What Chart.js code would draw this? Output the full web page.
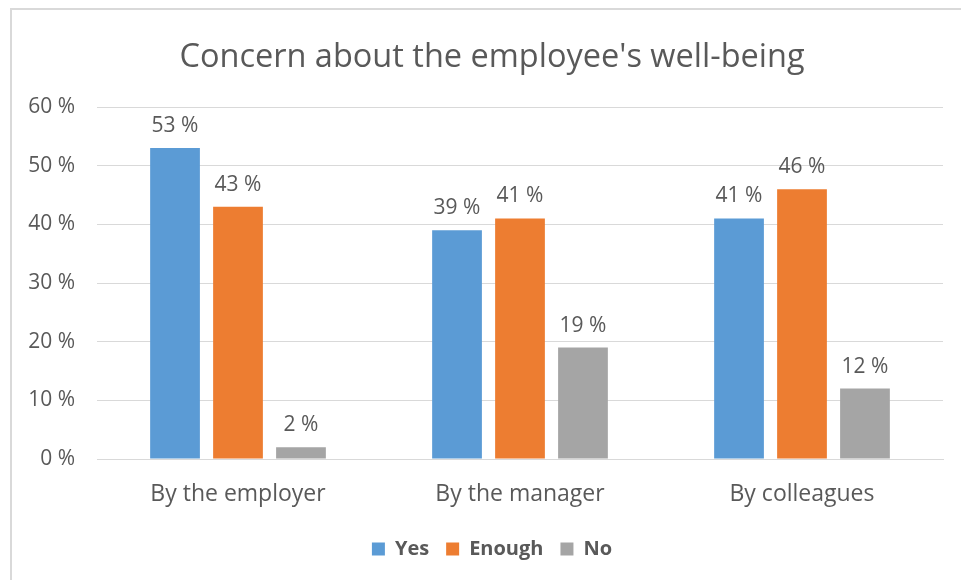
<!DOCTYPE html>
<html>
<head>
<meta charset="utf-8">
<script src="https://cdn.jsdelivr.net/npm/chart.js@4"></script>
<style>
  html, body { margin: 0; padding: 0; background: #fff; }
  #wrap { position: relative; width: 961px; height: 580px; overflow: hidden; }
  #frame {
    position: absolute; left: 10px; top: 8px; right: -10px; bottom: -10px;
    border-left: 2px solid #d9d9d9; border-top: 2px solid #d9d9d9;
  }
  #grafico { position: absolute; left: 0; top: 0; }
</style>
</head>
<body>
<div id="wrap">
  <div id="frame"></div>
  <canvas id="grafico" width="961" height="580"></canvas>
</div>
<script>
const categorias = ["By the employer", "By the manager", "By colleagues"];
const yes = [53, 39, 41];
const enough = [43, 41, 46];
const no = [2, 19, 12];
const ticksY = [0, 10, 20, 30, 40, 50, 60];

const corTexto = "#595959";
const fonte = "'Open Sans', 'Noto Sans', sans-serif";

// rótulos de valor em cima de cada barra
const rotulosPlugin = {
    id: "rotulos",
    afterDatasetsDraw(chart) {
        const ctx = chart.ctx;
        ctx.save();
        ctx.font = "21px " + fonte;
        ctx.fillStyle = corTexto;
        ctx.textAlign = "center";
        ctx.textBaseline = "middle";
        chart.data.datasets.forEach((ds, i) => {
            chart.getDatasetMeta(i).data.forEach((bar, j) => {
                ctx.fillText(ds.data[j] + " %", bar.x, bar.y - 22);
            });
        });
        ctx.restore();
    }
};

const ctx = document.getElementById("grafico").getContext("2d");
new Chart(ctx, {
    type: "bar",
    data: {
        labels: categorias,
        datasets: [
            { label: "Yes", data: yes, backgroundColor: "#5B9BD5" },
            { label: "Enough", data: enough, backgroundColor: "#ED7D31" },
            { label: "No", data: no, backgroundColor: "#A5A5A5" },
        ],
    },
    options: {
        responsive: false,
        animation: false,
        // padding esquerdo maior para centrar título e legenda na moldura
        layout: { padding: { left: 41, right: 18, top: 0, bottom: 11 } },
        datasets: {
            bar: { categoryPercentage: 0.67, barPercentage: 0.79 }
        },
        plugins: {
            title: {
                display: true,
                text: "Concern about the employee's well-being",
                color: corTexto,
                font: { family: fonte, size: 32.5, weight: "normal" },
                padding: { top: 38, bottom: 30 },
            },
            legend: {
                position: "bottom",
                labels: {
                    color: corTexto,
                    font: { family: fonte, size: 20, weight: "bold" },
                    boxWidth: 13,
                    boxHeight: 13,
                    padding: 17,
                },
            },
            tooltip: { enabled: false },
        },
        scales: {
            x: {
                grid: { display: false },
                border: { color: "#d9d9d9", width: 1 },
                ticks: { color: corTexto, font: { family: fonte, size: 23 }, padding: 14 },
                afterFit(scale) { scale.height = 63; },
            },
            y: {
                min: 0,
                max: 60,
                afterBuildTicks(scale) { scale.ticks = ticksY.map(v => ({ value: v })); },
                grid: { color: "#d9d9d9", drawTicks: false },
                border: { display: false },
                ticks: {
                    color: corTexto,
                    font: { family: fonte, size: 21 },
                    padding: 22,
                    callback: v => v + " %",
                },
                afterFit(scale) {
                    scale.width = 56;
                    // os rótulos passam para o padding da esquerda, sem recorte
                    scale._computeLabelArea = () => null;
                },
            },
        },
    },
    plugins: [rotulosPlugin],
});
</script>
</body>
</html>
